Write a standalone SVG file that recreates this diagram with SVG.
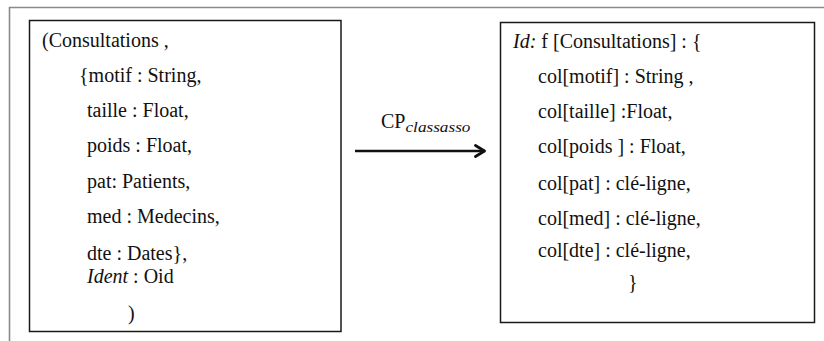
<svg xmlns="http://www.w3.org/2000/svg" width="824" height="341" viewBox="0 0 824 341">
<style>
.t{font-family:"Liberation Serif","Times New Roman",serif;font-size:20px;fill:#111}
.i{font-style:italic}
.box{fill:#fff;stroke:#1a1a1a;stroke-width:1.5}
.conn{fill:none;stroke:#111;stroke-width:2.4}
</style>
<defs>
<marker id="arr" viewBox="0 0 12 14" refX="11" refY="7" markerWidth="12" markerHeight="14" markerUnits="userSpaceOnUse" orient="auto">
<path d="M1.5,1.5 L10.5,7 L1.5,12.5" fill="none" stroke="#111" stroke-width="2.8" stroke-linecap="round" stroke-linejoin="round"/>
</marker>
</defs>
<rect width="824" height="341" fill="#fff"/>
<path d="M9.5,341 V7.5 H824" fill="none" stroke="#8a8a8a" stroke-width="1.6"/>
<g id="source">
<rect class="box" x="29.5" y="20.5" width="311.5" height="311"/>
<text class="t" x="42" y="47">(Consultations ,</text>
<text class="t" x="79" y="82">{motif : String,</text>
<text class="t" x="87" y="117">taille : Float,</text>
<text class="t" x="87" y="152">poids : Float,</text>
<text class="t" x="87" y="188">pat: Patients,</text>
<text class="t" x="87" y="223">med : Medecins,</text>
<text class="t" x="87" y="260">dte : Dates},</text>
<text class="t" x="87" y="283"><tspan class="i">Ident</tspan> : Oid</text>
<text class="t" x="128" y="320">)</text>
</g>
<g id="target">
<rect class="box" x="500.5" y="22.5" width="314" height="300"/>
<text class="t" x="513" y="48"><tspan class="i">Id:</tspan> f [Consultations] : {</text>
<text class="t" x="538" y="83">col[motif] : String ,</text>
<text class="t" x="538" y="118">col[taille] :Float,</text>
<text class="t" x="538" y="153">col[poids ] : Float,</text>
<text class="t" x="538" y="190">col[pat] : clé-ligne,</text>
<text class="t" x="538" y="225">col[med] : clé-ligne,</text>
<text class="t" x="538" y="257">col[dte] : clé-ligne,</text>
<text class="t" x="628" y="289">}</text>
</g>
<g id="connectors">
<line class="conn" x1="355" y1="151" x2="485" y2="151" marker-end="url(#arr)"/>
<text class="t" x="381" y="128">CP<tspan class="i" font-size="15" y="132" textLength="65" lengthAdjust="spacingAndGlyphs">classasso</tspan></text>
</g>
</svg>
